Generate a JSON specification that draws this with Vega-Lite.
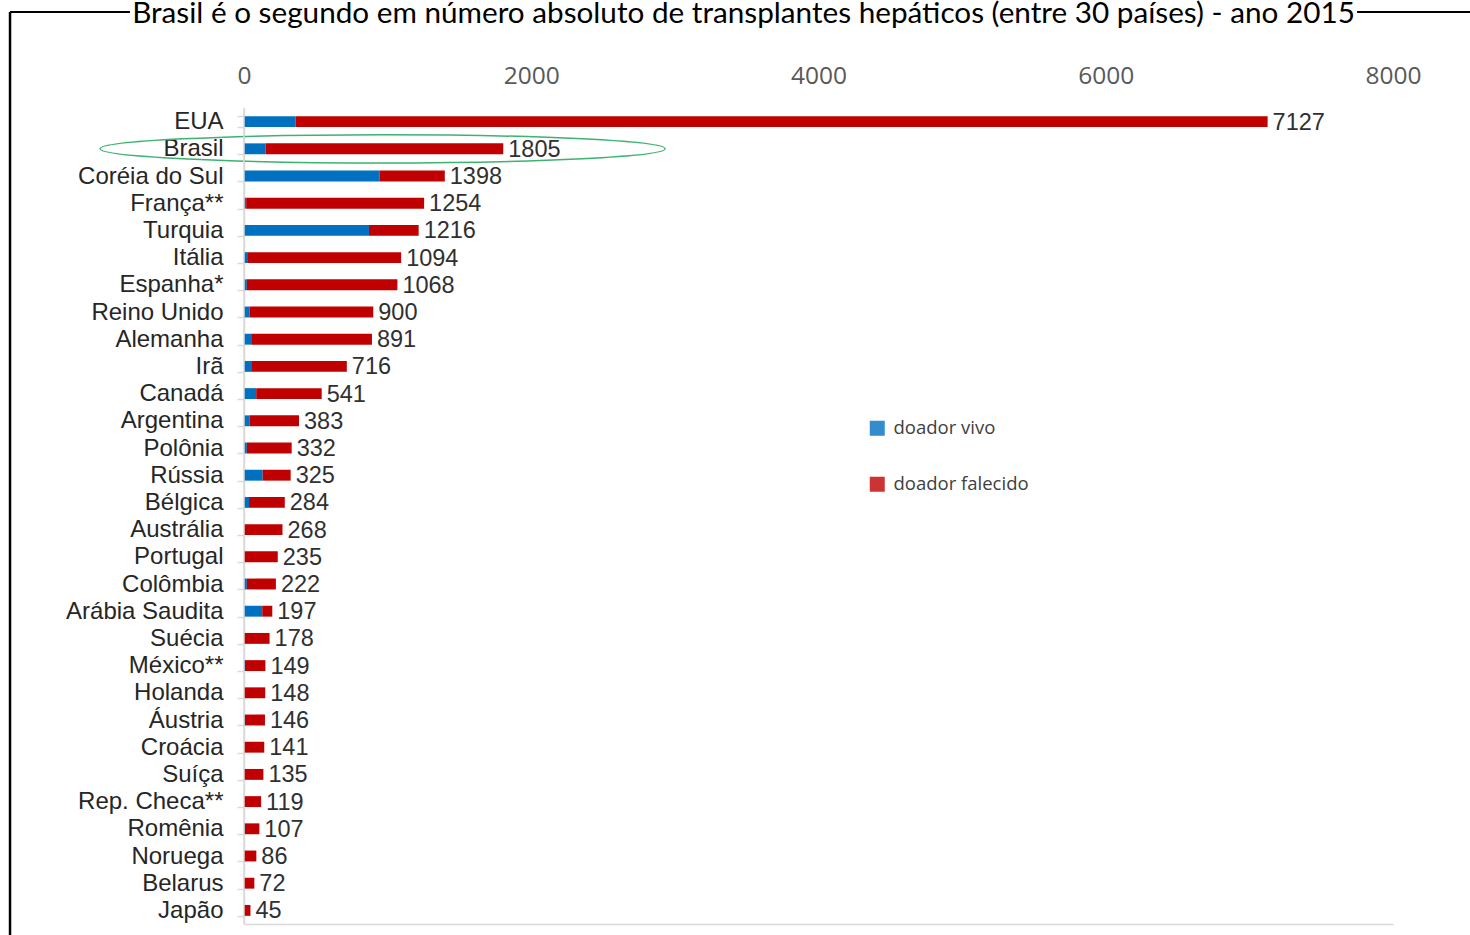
{
  "$schema": "https://vega.github.io/schema/vega-lite/v6.json",
  "width": 1149,
  "height": 816,
  "autosize": {"type": "none"},
  "padding": {"left": 244, "top": 108, "right": 77, "bottom": 11},
  "background": "white",
  "title": {
    "text": "Brasil é o segundo em número absoluto de transplantes hepáticos (entre 30 países) - ano 2015",
    "font": "Lato",
    "fontSize": 29.7,
    "fontWeight": "normal",
    "color": "#000000",
    "anchor": "middle",
    "frame": "group",
    "dx": -75,
    "offset": -19
  },
  "datasets": {
    "barras": [
      {"pais": "EUA", "tipo": "doador vivo", "valor": 359},
      {"pais": "EUA", "tipo": "doador falecido", "valor": 6768},
      {"pais": "Brasil", "tipo": "doador vivo", "valor": 150},
      {"pais": "Brasil", "tipo": "doador falecido", "valor": 1655},
      {"pais": "Coréia do Sul", "tipo": "doador vivo", "valor": 945},
      {"pais": "Coréia do Sul", "tipo": "doador falecido", "valor": 453},
      {"pais": "França**", "tipo": "doador vivo", "valor": 15},
      {"pais": "França**", "tipo": "doador falecido", "valor": 1239},
      {"pais": "Turquia", "tipo": "doador vivo", "valor": 870},
      {"pais": "Turquia", "tipo": "doador falecido", "valor": 346},
      {"pais": "Itália", "tipo": "doador vivo", "valor": 22},
      {"pais": "Itália", "tipo": "doador falecido", "valor": 1072},
      {"pais": "Espanha*", "tipo": "doador vivo", "valor": 20},
      {"pais": "Espanha*", "tipo": "doador falecido", "valor": 1048},
      {"pais": "Reino Unido", "tipo": "doador vivo", "valor": 40},
      {"pais": "Reino Unido", "tipo": "doador falecido", "valor": 860},
      {"pais": "Alemanha", "tipo": "doador vivo", "valor": 50},
      {"pais": "Alemanha", "tipo": "doador falecido", "valor": 841},
      {"pais": "Irã", "tipo": "doador vivo", "valor": 50},
      {"pais": "Irã", "tipo": "doador falecido", "valor": 666},
      {"pais": "Canadá", "tipo": "doador vivo", "valor": 85},
      {"pais": "Canadá", "tipo": "doador falecido", "valor": 456},
      {"pais": "Argentina", "tipo": "doador vivo", "valor": 40},
      {"pais": "Argentina", "tipo": "doador falecido", "valor": 343},
      {"pais": "Polônia", "tipo": "doador vivo", "valor": 20},
      {"pais": "Polônia", "tipo": "doador falecido", "valor": 312},
      {"pais": "Rússia", "tipo": "doador vivo", "valor": 130},
      {"pais": "Rússia", "tipo": "doador falecido", "valor": 195},
      {"pais": "Bélgica", "tipo": "doador vivo", "valor": 35},
      {"pais": "Bélgica", "tipo": "doador falecido", "valor": 249},
      {"pais": "Austrália", "tipo": "doador vivo", "valor": 0},
      {"pais": "Austrália", "tipo": "doador falecido", "valor": 268},
      {"pais": "Portugal", "tipo": "doador vivo", "valor": 0},
      {"pais": "Portugal", "tipo": "doador falecido", "valor": 235},
      {"pais": "Colômbia", "tipo": "doador vivo", "valor": 20},
      {"pais": "Colômbia", "tipo": "doador falecido", "valor": 202},
      {"pais": "Arábia Saudita", "tipo": "doador vivo", "valor": 127},
      {"pais": "Arábia Saudita", "tipo": "doador falecido", "valor": 70},
      {"pais": "Suécia", "tipo": "doador vivo", "valor": 0},
      {"pais": "Suécia", "tipo": "doador falecido", "valor": 178},
      {"pais": "México**", "tipo": "doador vivo", "valor": 7},
      {"pais": "México**", "tipo": "doador falecido", "valor": 142},
      {"pais": "Holanda", "tipo": "doador vivo", "valor": 0},
      {"pais": "Holanda", "tipo": "doador falecido", "valor": 148},
      {"pais": "Áustria", "tipo": "doador vivo", "valor": 5},
      {"pais": "Áustria", "tipo": "doador falecido", "valor": 141},
      {"pais": "Croácia", "tipo": "doador vivo", "valor": 0},
      {"pais": "Croácia", "tipo": "doador falecido", "valor": 141},
      {"pais": "Suíça", "tipo": "doador vivo", "valor": 0},
      {"pais": "Suíça", "tipo": "doador falecido", "valor": 135},
      {"pais": "Rep. Checa**", "tipo": "doador vivo", "valor": 0},
      {"pais": "Rep. Checa**", "tipo": "doador falecido", "valor": 119},
      {"pais": "Romênia", "tipo": "doador vivo", "valor": 5},
      {"pais": "Romênia", "tipo": "doador falecido", "valor": 102},
      {"pais": "Noruega", "tipo": "doador vivo", "valor": 0},
      {"pais": "Noruega", "tipo": "doador falecido", "valor": 86},
      {"pais": "Belarus", "tipo": "doador vivo", "valor": 0},
      {"pais": "Belarus", "tipo": "doador falecido", "valor": 72},
      {"pais": "Japão", "tipo": "doador vivo", "valor": 0},
      {"pais": "Japão", "tipo": "doador falecido", "valor": 45}
    ],
    "totais": [
      {"pais": "EUA", "total": 7127},
      {"pais": "Brasil", "total": 1805},
      {"pais": "Coréia do Sul", "total": 1398},
      {"pais": "França**", "total": 1254},
      {"pais": "Turquia", "total": 1216},
      {"pais": "Itália", "total": 1094},
      {"pais": "Espanha*", "total": 1068},
      {"pais": "Reino Unido", "total": 900},
      {"pais": "Alemanha", "total": 891},
      {"pais": "Irã", "total": 716},
      {"pais": "Canadá", "total": 541},
      {"pais": "Argentina", "total": 383},
      {"pais": "Polônia", "total": 332},
      {"pais": "Rússia", "total": 325},
      {"pais": "Bélgica", "total": 284},
      {"pais": "Austrália", "total": 268},
      {"pais": "Portugal", "total": 235},
      {"pais": "Colômbia", "total": 222},
      {"pais": "Arábia Saudita", "total": 197},
      {"pais": "Suécia", "total": 178},
      {"pais": "México**", "total": 149},
      {"pais": "Holanda", "total": 148},
      {"pais": "Áustria", "total": 146},
      {"pais": "Croácia", "total": 141},
      {"pais": "Suíça", "total": 135},
      {"pais": "Rep. Checa**", "total": 119},
      {"pais": "Romênia", "total": 107},
      {"pais": "Noruega", "total": 86},
      {"pais": "Belarus", "total": 72},
      {"pais": "Japão", "total": 45}
    ],
    "destaque": [
      {"pais": "Brasil", "centro": 965}
    ]
  },
  "layer": [
    {
      "data": {"name": "barras"},
      "mark": {"type": "bar", "cornerRadius": 0},
      "encoding": {
        "y": {
          "field": "pais",
          "type": "nominal",
          "scale": {
            "domain": ["EUA", "Brasil", "Coréia do Sul", "França**", "Turquia", "Itália", "Espanha*", "Reino Unido", "Alemanha", "Irã", "Canadá", "Argentina", "Polônia", "Rússia", "Bélgica", "Austrália", "Portugal", "Colômbia", "Arábia Saudita", "Suécia", "México**", "Holanda", "Áustria", "Croácia", "Suíça", "Rep. Checa**", "Romênia", "Noruega", "Belarus", "Japão"],
            "paddingInner": 0.6,
            "paddingOuter": 0.3
          },
          "axis": {
            "title": null,
            "domain": true,
            "domainColor": "#D9D9D9",
            "domainWidth": 1.5,
            "ticks": true,
            "tickBand": "extent",
            "tickColor": "#D9D9D9",
            "tickSize": 7,
            "tickWidth": 1.5,
            "labelPadding": 14,
            "labelFont": "Liberation Sans",
            "labelFontSize": 24,
            "labelColor": "#262626",
            "grid": false
          }
        },
        "x": {
          "field": "valor",
          "type": "quantitative",
          "stack": "zero",
          "scale": {"domain": [0, 8000], "nice": false, "zero": true},
          "axis": {
            "orient": "top",
            "title": null,
            "values": [0, 2000, 4000, 6000, 8000],
            "format": "d",
            "domain": false,
            "ticks": false,
            "grid": false,
            "labelFlush": false,
            "labelOverlap": false,
            "labelPadding": 20,
            "labelFont": "Open Sans",
            "labelFontSize": 24.5,
            "labelColor": "#595959"
          }
        },
        "color": {
          "field": "tipo",
          "type": "nominal",
          "scale": {"domain": ["doador vivo", "doador falecido"], "range": ["#0070C0", "#C00000"]},
          "legend": {
            "title": null,
            "orient": "none",
            "legendX": 624,
            "legendY": 311,
            "symbolType": "square",
            "symbolSize": 225,
            "symbolOpacity": 0.8,
            "symbolStrokeWidth": 0,
            "labelFont": "Open Sans",
            "labelFontSize": 18.5,
            "labelColor": "#404040",
            "labelOffset": 7,
            "rowPadding": 37,
            "padding": 0
          }
        },
        "order": {"field": "tipo", "sort": "descending"}
      }
    },
    {
      "data": {"name": "totais"},
      "mark": {"type": "text", "align": "left", "baseline": "middle", "dx": 5, "dy": 1, "font": "Liberation Sans", "fontSize": 23.5, "color": "#303030"},
      "encoding": {
        "y": {"field": "pais", "type": "nominal"},
        "x": {"field": "total", "type": "quantitative", "axis": null},
        "text": {"field": "total", "type": "quantitative", "format": "d"}
      }
    },
    {
      "data": {"name": "destaque"},
      "mark": {
        "type": "point",
        "shape": "M-1,0A1,0.05,0,1,0,1,0A1,0.05,0,1,0,-1,0Z",
        "size": 319225,
        "filled": false,
        "stroke": "#3CB371",
        "strokeWidth": 1.5,
        "opacity": 1
      },
      "encoding": {
        "y": {"field": "pais", "type": "nominal"},
        "x": {"field": "centro", "type": "quantitative", "axis": null}
      }
    },
    {
      "data": {"values": [{}]},
      "mark": {"type": "rule", "color": "#D9D9D9", "strokeWidth": 1.5},
      "encoding": {
        "x": {"datum": 0, "type": "quantitative", "axis": {"orient": "bottom", "labels": false, "ticks": false, "grid": false, "domain": true, "domainColor": "#D9D9D9", "domainWidth": 1.5, "title": null}}
      }
    },
    {
      "data": {"values": [{}]},
      "mark": {"type": "rule", "color": "#000000", "strokeWidth": 2.5},
      "encoding": {
        "x": {"datum": -1629, "type": "quantitative", "axis": null},
        "y": {"value": -96},
        "y2": {"value": 827}
      }
    },
    {
      "data": {"values": [{}]},
      "mark": {"type": "rule", "color": "#000000", "strokeWidth": 2},
      "encoding": {
        "x": {"datum": -1629, "type": "quantitative", "axis": null},
        "x2": {"datum": -794},
        "y": {"value": -96}
      }
    },
    {
      "data": {"values": [{}]},
      "mark": {"type": "rule", "color": "#000000", "strokeWidth": 2},
      "encoding": {
        "x": {"datum": 7750, "type": "quantitative", "axis": null},
        "x2": {"datum": 8540},
        "y": {"value": -96}
      }
    }
  ],
  "config": {
    "view": {"stroke": null},
    "axis": {"labelOverlap": false}
  }
}
